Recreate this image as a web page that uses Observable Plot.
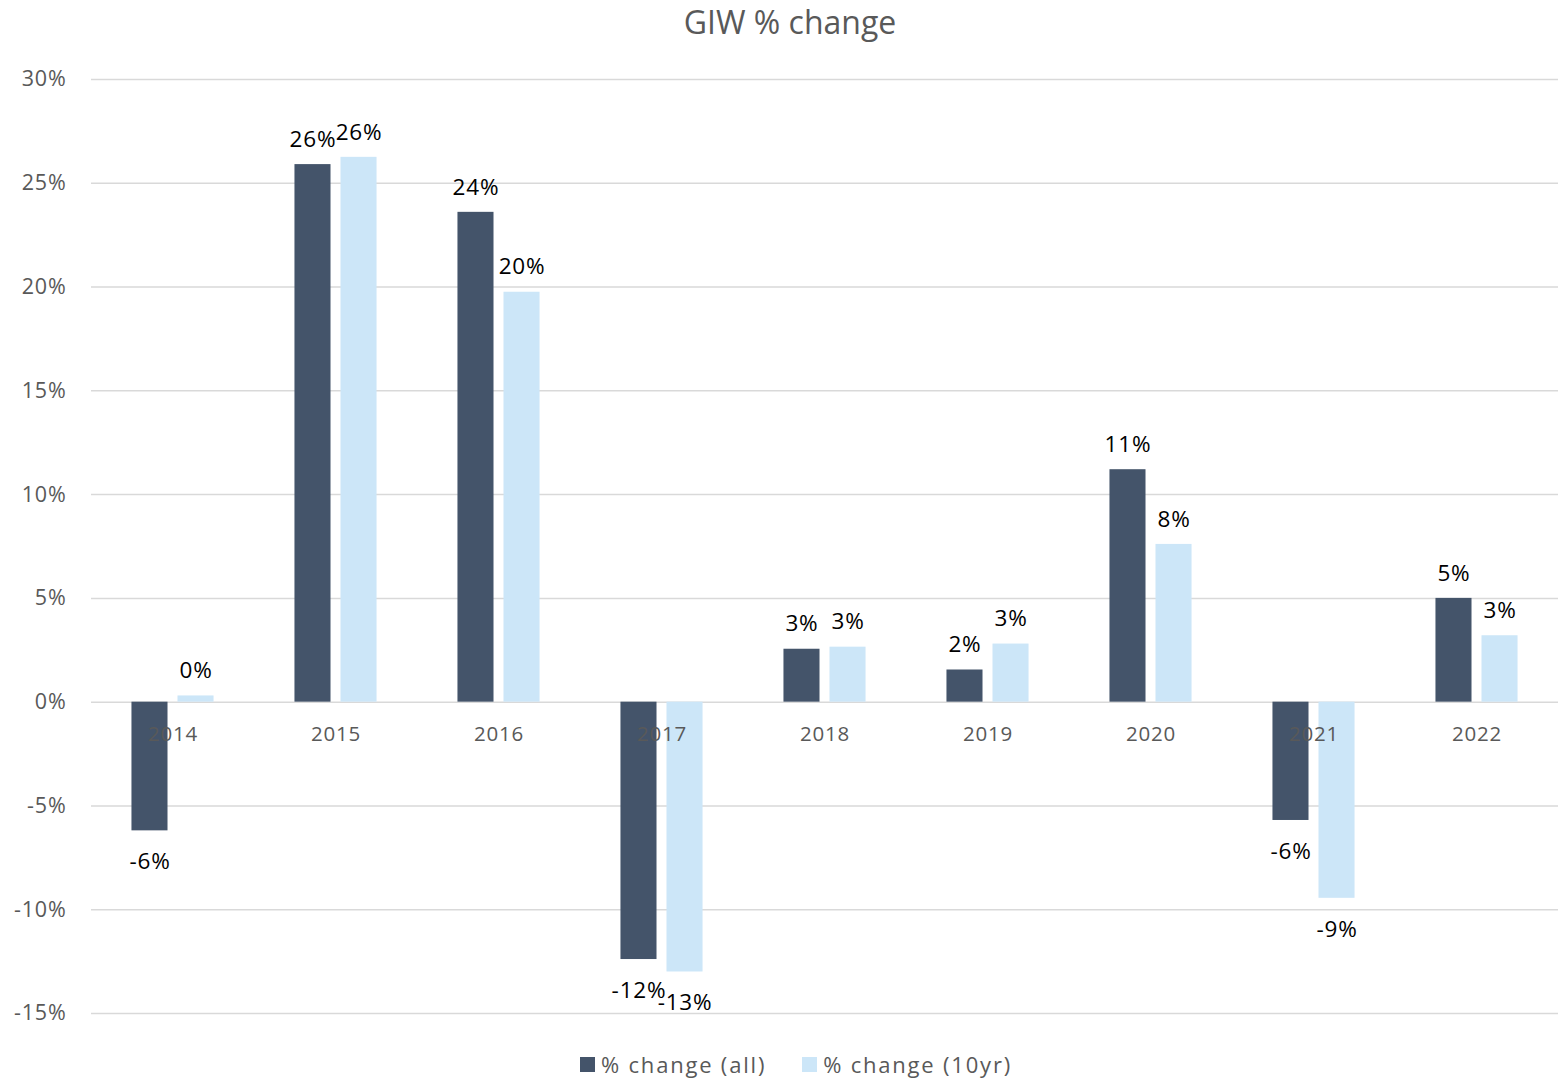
<!DOCTYPE html>
<html><head><meta charset="utf-8">
<script src="https://cdn.jsdelivr.net/npm/d3@7"></script>
<script src="https://cdn.jsdelivr.net/npm/@observablehq/plot@0.6"></script>
<style>
body{margin:0;background:#fff;font-family:"Open Sans",sans-serif;width:1568px;height:1082px;overflow:hidden;}
#title{height:44px;line-height:44px;text-align:center;font-size:32px;color:#595959;padding-left:12px;}
#chart svg{display:block;}
#legend{height:40px;display:flex;justify-content:center;align-items:center;padding-left:24px;padding-top:4px;box-sizing:border-box;}
.item{display:flex;align-items:center;margin:0 18px;font-size:22px;color:#595959;letter-spacing:1.8px;}
.sw{width:15px;height:15px;margin-right:6px;}
</style></head><body>
<div id="title">GIW % change</div>
<div id="chart"></div>
<div id="legend"></div>
<script>
const years = ["2014","2015","2016","2017","2018","2019","2020","2021","2022"];
const series = ["% change (all)", "% change (10yr)"];
const allValues = [-6.2, 25.9, 23.6, -12.4, 2.55, 1.55, 11.2, -5.7, 5.0];
const tenYrValues = [0.3, 26.25, 19.75, -13.0, 2.65, 2.8, 7.6, -9.45, 3.2];
const colors = ["#44546A", "#CCE6F8"];
const yTicks = [-15, -10, -5, 0, 5, 10, 15, 20, 25, 30];

const data = years.flatMap((y, i) => [
  {year: y, series: series[0], value: allValues[i]},
  {year: y, series: series[1], value: tenYrValues[i]}
]);
const fmt = d => Math.round(d.value) + "%";

const chart = Plot.plot({
  width: 1568, height: 998,
  marginTop: 35, marginBottom: 29, marginLeft: 91, marginRight: 10,
  style: {fontFamily: "Open Sans", fontSize: "21.5px", color: "#595959", background: "#fff", letterSpacing: "0.8px"},
  fx: {domain: years, padding: 0, round: false, axis: null, label: null},
  x: {domain: series, paddingInner: 0.217, paddingOuter: 0.879, round: false, axis: null, label: null},
  y: {domain: [-15, 30], ticks: yTicks, tickFormat: d => d + "%", tickSize: 0, tickPadding: 25, label: null},
  color: {domain: series, range: colors},
  marks: [
    Plot.ruleY(yTicks, {stroke: "#d9d9d9", strokeWidth: 1.5}),
    Plot.barY(data, {fx: "year", x: "series", y: "value", fill: "series"}),
    Plot.text(years, {fx: d => d, y: 0, text: d => d, dy: 32, fill: "#595959", fontSize: 20.5, fontFamily: "Open Sans"}),
    Plot.text(data, {filter: d => d.value >= 0, fx: "year", x: "series", y: "value", text: fmt, dy: -25, fill: "#000", fontSize: 22.5, fontFamily: "Open Sans", letterSpacing: "0px"}),
    Plot.text(data, {filter: d => d.value < 0, fx: "year", x: "series", y: "value", text: fmt, dy: 31, fill: "#000", fontSize: 22.5, fontFamily: "Open Sans", letterSpacing: "0px"})
  ]
});
document.getElementById("chart").appendChild(chart);

const legend = document.getElementById("legend");
series.forEach((s, i) => {
  const item = document.createElement("div");
  item.className = "item";
  const sw = document.createElement("div");
  sw.className = "sw";
  sw.style.background = colors[i];
  const t = document.createElement("span");
  t.textContent = s;
  item.appendChild(sw);
  item.appendChild(t);
  legend.appendChild(item);
});
</script>
</body></html>
